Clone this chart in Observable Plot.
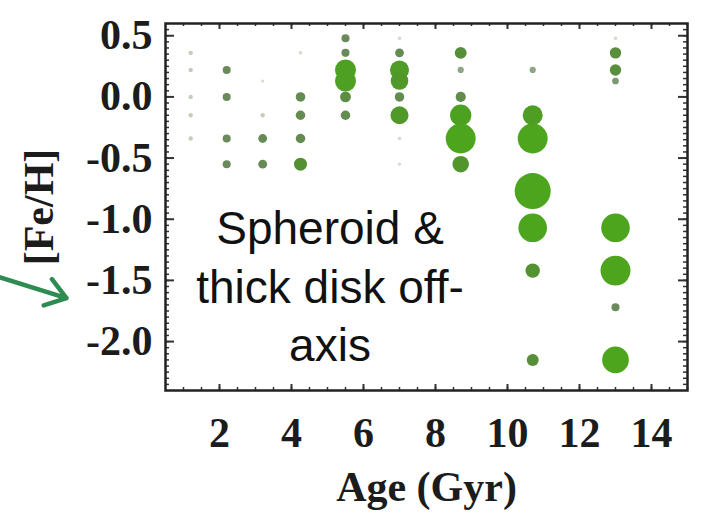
<!DOCTYPE html>
<html><head><meta charset="utf-8">
<script src="https://cdn.jsdelivr.net/npm/d3@7"></script>
<script src="https://cdn.jsdelivr.net/npm/@observablehq/plot@0.6"></script>
<style>
html,body{margin:0;padding:0;background:#fff;}
</style></head><body><div id="chart"></div>
<script>
// ---- data ----
const ageBins = [1.2, 2.2, 3.2, 4.25, 5.5, 7.0, 8.7, 10.7, 13.0];
const fehBins = [0.48, 0.36, 0.22, 0.13, 0.0, -0.15, -0.34, -0.55, -0.77, -1.07, -1.42, -1.72, -2.15];
// weight of each (age, [Fe/H]) cell: one row per age bin, one column per [Fe/H] bin
const weights = [
  [0,   1.5, 1.5, 0,   1.5, 1.5, 1.5, 0,   0,   0,  0,  0, 0 ], // 1.2 Gyr
  [0,   0,   5,   0,   5,   0,   5,   5,   0,   0,  0,  0, 0 ], // 2.2
  [0,   0,   0,   0.8, 0,   1.5, 6,   6,   0,   0,  0,  0, 0 ], // 3.2
  [0,   1,   0,   0,   7,   7,   7,   13,  0,   0,  0,  0, 0 ], // 4.25
  [5,   5,   34,  34,  9,   7,   0,   0,   0,   0,  0,  0, 0 ], // 5.5
  [1,   6,   28,  24,  7,   25,  1,   0.8, 0,   0,  0,  0, 0 ], // 7.0
  [0,   11,  3,   0,   8,   35,  69,  21,  0,   0,  0,  0, 0 ], // 8.7
  [0,   0,   3,   0,   0,   31,  69,  0,   100, 63, 16, 0, 11], // 10.7
  [1,   10,  10,  3.5, 0,   0,   0,   0,   0,   63, 69, 5, 55]  // 13.0
];
const xTicks = [2, 4, 6, 8, 10, 12, 14];
const yTicks = [0.5, 0.0, -0.5, -1.0, -1.5, -2.0];
const xLabel = "Age (Gyr)";
const yLabel = "[Fe/H]";
const noteLines = ["Spheroid &", "thick disk off-", "axis"];
const notePos = [{x: 5.07, y: -1.53}];
const arrowPts = [{x1: -4.15, y1: -1.47, x2: -2.25, y2: -1.645}];

// ---- layout ----
const W = 712, H = 516;
const mL = 165, mR = 25, mT = 23, mB = 126;
const FW = W - mL - mR, FH = H - mT - mB;

const dots = [];
ageBins.forEach((a, i) => fehBins.forEach((f, j) => {
  const w = weights[i][j];
  if (w > 0) dots.push({age: a, feh: f, w});
}));
dots.sort((a, b) => b.w - a.w);

const xMinor = d3.range(1, 15.01, 0.5);
const yMinor = d3.range(-2.35, 0.6, 0.05).map(v => Math.round(v * 100) / 100);
const xMajor = xTicks;
const yMajor = yTicks;

const ink = "#1c1c1c";
const serif = "'Liberation Serif','Times New Roman',serif";

const plot = Plot.plot({
  width: W, height: H,
  marginLeft: mL, marginRight: mR, marginTop: mT, marginBottom: mB,
  x: {domain: [0.5, 15]},
  y: {domain: [-2.4, 0.6]},
  r: {type: "sqrt", domain: [0, 100], range: [0, 18]},
  color: {type: "linear", domain: [1, 4, 12, 40], range: ["#d3dbcc", "#6d8961", "#548f34", "#4ca51d"], clamp: true},
  style: {fontFamily: serif, fontWeight: "bold", fontSize: "42px", color: ink, background: "#fff"},
  marks: [
    Plot.dot(dots, {x: "age", y: "feh", r: "w", fill: "w", stroke: null}),
    // inward ticks on all four sides
    Plot.tickY(yMinor, {y: d => d, insetRight: FW - 4, stroke: "#333", strokeWidth: 1.5}),
    Plot.tickY(yMajor, {y: d => d, insetRight: FW - 9, stroke: "#333", strokeWidth: 2}),
    Plot.tickY(yMinor, {y: d => d, insetLeft: FW - 4, stroke: "#333", strokeWidth: 1.5}),
    Plot.tickY(yMajor, {y: d => d, insetLeft: FW - 9, stroke: "#333", strokeWidth: 2}),
    Plot.tickX(xMinor, {x: d => d, insetTop: FH - 3, stroke: "#333", strokeWidth: 1.5}),
    Plot.tickX(xMajor, {x: d => d, insetTop: FH - 6, stroke: "#333", strokeWidth: 2}),
    Plot.tickX(xMinor, {x: d => d, insetBottom: FH - 3, stroke: "#333", strokeWidth: 1.5}),
    Plot.tickX(xMajor, {x: d => d, insetBottom: FH - 6, stroke: "#333", strokeWidth: 2}),
    Plot.frame({stroke: "#222", strokeWidth: 2.5}),
    Plot.axisX(xTicks, {tickSize: 0, tickPadding: 27, label: null, tickFormat: d => String(d), fontSize: 42, fill: ink}),
    Plot.axisY(yTicks, {tickSize: 0, tickPadding: 13, label: null, tickFormat: d => d.toFixed(1), fontSize: 42, fill: ink}),
    Plot.text([xLabel], {frameAnchor: "bottom", dy: 97, lineAnchor: "middle", textAnchor: "middle", fontSize: 42, fill: ink}),
    Plot.text([yLabel], {frameAnchor: "left", dx: -126, rotate: -90, lineAnchor: "middle", textAnchor: "middle", fontSize: 42, fill: ink}),
    Plot.text(notePos, {x: "x", y: "y", text: () => noteLines.join("\n"), lineAnchor: "middle", lineHeight: 1.27,
      fontFamily: "'Liberation Sans',Arial,sans-serif", fontWeight: "normal", fontSize: 46, fill: "#111"}),
    Plot.arrow(arrowPts, {x1: "x1", y1: "y1", x2: "x2", y2: "y2", stroke: "#2e8b52", strokeWidth: 4.5, headLength: 22, headAngle: 70})
  ]
});
document.getElementById("chart").appendChild(plot);
</script>
</body></html>
